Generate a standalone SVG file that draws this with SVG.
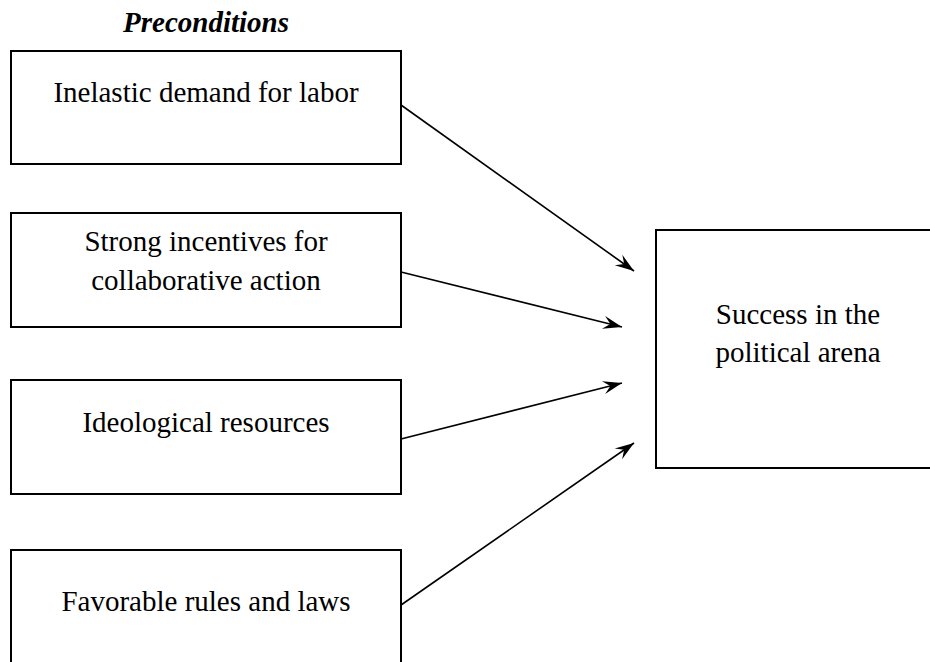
<svg xmlns="http://www.w3.org/2000/svg" width="930" height="662" viewBox="0 0 930 662">
<style>
.box{fill:#fff;stroke:#000;stroke-width:2}
.t{font-family:"Liberation Serif","Times New Roman",serif;font-size:29px;fill:#000;text-anchor:middle}
.h{font-weight:bold;font-style:italic}
.c{stroke:#000;stroke-width:1.6;fill:none;marker-end:url(#ah)}
</style>
<defs>
<marker id="ah" markerUnits="userSpaceOnUse" markerWidth="24" markerHeight="16" viewBox="-20 -8 22 16" refX="0" refY="0" orient="auto" overflow="visible">
<path d="M0,0 L-19,-6.5 L-12,0 L-19,6.5 Z" fill="#000"/>
</marker>
</defs>
<rect width="930" height="662" fill="#fff"/>
<text class="t h" x="206" y="32">Preconditions</text>
<g id="n1">
<rect class="box" x="11" y="51" width="390" height="113"/>
<text class="t" x="206" y="102">Inelastic demand for labor</text>
</g>
<g id="n2">
<rect class="box" x="11" y="213" width="390" height="114"/>
<text class="t" x="206" y="251">Strong incentives for</text>
<text class="t" x="206" y="290">collaborative action</text>
</g>
<g id="n3">
<rect class="box" x="11" y="380" width="390" height="114"/>
<text class="t" x="206" y="432">Ideological resources</text>
</g>
<g id="n4">
<rect class="box" x="11" y="550" width="390" height="130"/>
<text class="t" x="206" y="611">Favorable rules and laws</text>
</g>
<g id="n5">
<rect class="box" x="656" y="230" width="290" height="238"/>
<text class="t" x="798" y="324">Success in the</text>
<text class="t" x="798" y="362">political arena</text>
</g>
<g id="connectors">
<line class="c" x1="401" y1="105" x2="634" y2="271"/>
<line class="c" x1="401" y1="272" x2="622" y2="327"/>
<line class="c" x1="401" y1="439" x2="622" y2="383"/>
<line class="c" x1="401" y1="605" x2="634" y2="443"/>
</g>
</svg>
